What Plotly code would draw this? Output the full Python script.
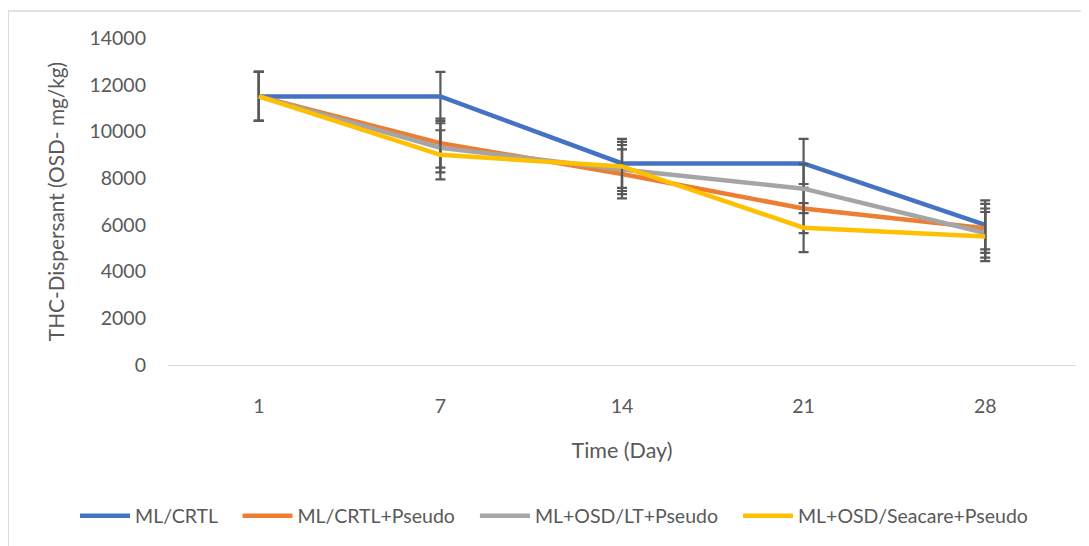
import plotly.graph_objects as go

days = ["1", "7", "14", "21", "28"]
series_names = ["ML/CRTL", "ML/CRTL+Pseudo", "ML+OSD/LT+Pseudo", "ML+OSD/Seacare+Pseudo"]
ml_crtl = [11500, 11500, 8630, 8630, 6000]
ml_crtl_pseudo = [11500, 9500, 8180, 6700, 5850]
ml_osd_lt_pseudo = [11500, 9300, 8370, 7550, 5650]
ml_osd_seacare_pseudo = [11500, 9000, 8500, 5880, 5500]
error_val = [1050, 1050, 1050, 1050, 1050]
y_ticks = [0, 2000, 4000, 6000, 8000, 10000, 12000, 14000]

colors = ["#4472C4", "#ED7D31", "#A5A5A5", "#FFC000"]
all_series = [ml_crtl, ml_crtl_pseudo, ml_osd_lt_pseudo, ml_osd_seacare_pseudo]

FONT = "Lato"
TXT = "#595959"
PAD = "\u00a0\u00a0\u00a0"

fig = go.Figure()
for i, (name, vals, col) in enumerate(zip(series_names, all_series, colors)):
    label = name + (PAD if i < len(series_names) - 1 else "")
    fig.add_trace(go.Scatter(
        x=days, y=vals, name=label, mode="lines",
        line=dict(color=col, width=4.5),
        error_y=dict(type="data", array=error_val, visible=True,
                     color="#595959", thickness=2.2, width=5),
    ))

fig.update_layout(
    width=1089, height=546,
    paper_bgcolor="white", plot_bgcolor="white",
    margin=dict(l=160, r=21, t=30, b=189),
    font=dict(family=FONT, size=19.5, color=TXT),
    showlegend=True,
    legend=dict(orientation="h", x=-0.1024, xanchor="left", y=-0.462, yanchor="middle",
                font=dict(family=FONT, size=19.5, color=TXT), itemwidth=50,
                traceorder="normal", bgcolor="rgba(0,0,0,0)"),
    xaxis=dict(type="category", range=[-0.5, 4.5], showgrid=False,
               showline=True, linecolor="#D9D9D9", linewidth=1, ticks="",
               ticklabelstandoff=24, tickfont=dict(size=19.5, color=TXT),
               title=dict(text="Time (Day)", font=dict(size=21.5, color=TXT), standoff=26),
               zeroline=False),
    yaxis=dict(range=[0, 14000], tickvals=y_ticks, tickformat="d", showgrid=False, zeroline=False,
               showline=False, ticks="", ticklabelstandoff=21,
               tickfont=dict(size=19.5, color=TXT),
               title=dict(text="THC-Dispersant (OSD- mg/kg)", font=dict(size=20.8, color=TXT), standoff=19)),
    shapes=[dict(type="rect", xref="paper", yref="paper",
                 x0=-0.176, x1=1.2, y0=-1.0, y1=1.0826,
                 line=dict(color="#D9D9D9", width=1.5), layer="below")],
)

fig.write_html("out.html")
